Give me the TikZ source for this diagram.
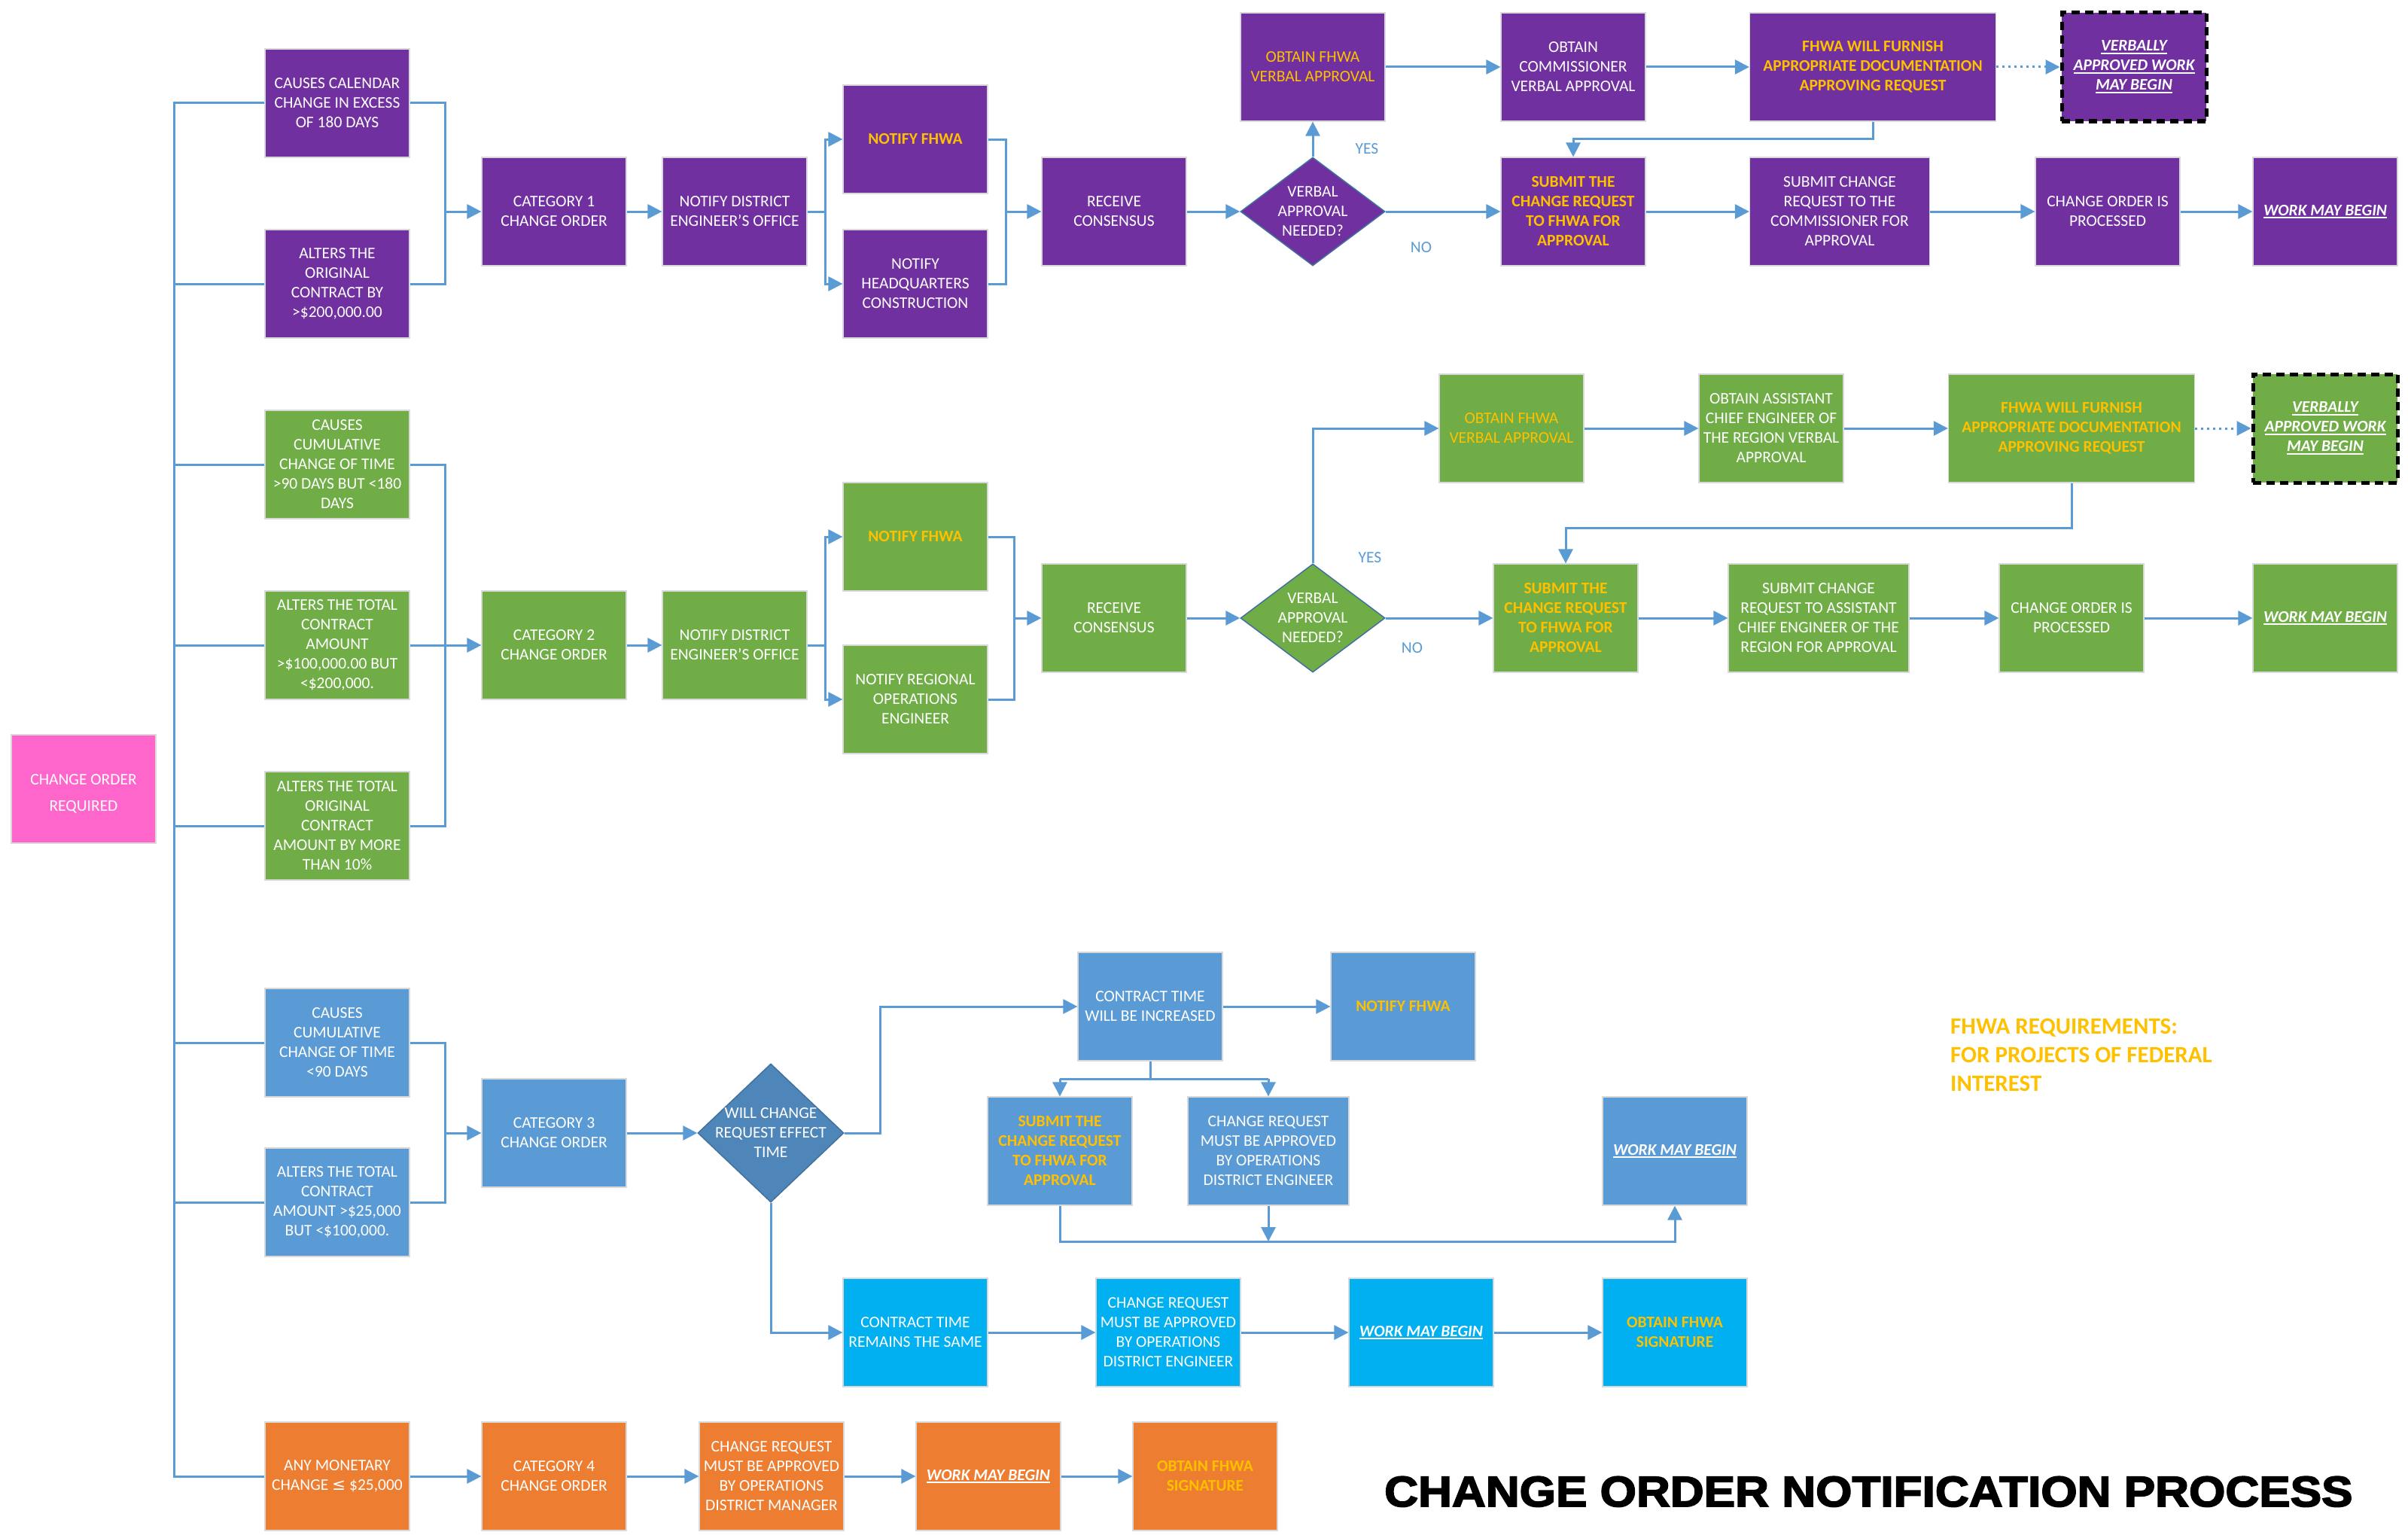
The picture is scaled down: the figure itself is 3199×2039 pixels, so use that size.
\documentclass[tikz,border=0pt]{standalone}
\usepackage{fontspec}
\setmainfont{Carlito}
\newfontfamily\titlefont[FakeStretch=1.09,FakeBold=3]{Liberation Sans}
\newfontfamily\symfont{DejaVu Sans}
\usetikzlibrary{arrows.meta,shapes.geometric,calc}
\definecolor{cpur}{HTML}{7030A0}
\definecolor{cgrn}{HTML}{70AD47}
\definecolor{cblu}{HTML}{5B9BD5}
\definecolor{cdia}{HTML}{4F86BA}
\definecolor{ccya}{HTML}{00B0F0}
\definecolor{corg}{HTML}{ED7D31}
\definecolor{cpnk}{HTML}{FF66CC}
\definecolor{cyel}{HTML}{FFC000}
\definecolor{cline}{HTML}{5B9BD5}
\definecolor{cedge}{HTML}{41719C}
\definecolor{cbord}{HTML}{D9D9D9}
\newcommand\boxfont{\fontsize{21.5}{26}\selectfont}
\newcommand\wul[1]{\setbox0\hbox{#1}\rlap{\rule[-4pt]{\wd0}{1.8pt}}\box0}
\tikzset{
  box/.style={rectangle, draw=cbord, line width=1.2pt, inner sep=0pt,
    minimum width=192pt, minimum height=144pt, align=center, text=white, font=\boxfont},
  pur/.style={box, fill=cpur},
  grn/.style={box, fill=cgrn},
  blu/.style={box, fill=cblu},
  cya/.style={box, fill=ccya},
  org/.style={box, fill=corg},
  ylw/.style={text=cyel, font=\boxfont\bfseries},
  ylwr/.style={text=cyel},
  wk/.style={font=\boxfont\bfseries\itshape},
  vb/.style={draw=black, line width=5pt, dash pattern=on 11pt off 7pt},
  dia/.style={diamond, draw=cedge, line width=1.5pt, inner sep=0pt,
    minimum width=192pt, minimum height=144pt},
  conn/.style={draw=cline, line width=3pt},
  arr/.style={conn, -{Triangle[length=19pt,width=19pt]}},
  dotarr/.style={arr, dash pattern=on 3pt off 5pt},
  yn/.style={text=cline, font=\boxfont, inner sep=0pt},
}
\begin{document}
\begin{tikzpicture}[x=1pt,y=-1pt]
\useasboundingbox (0,0) rectangle (3199,2039);
\fill[white] (0,0) rectangle (3199,2039);

% ---------- start ----------
\node[box, fill=cpnk, label={[text=white,align=center,yshift=-6pt,font=\fontsize{21.5}{35}\selectfont]center:CHANGE ORDER\\REQUIRED}] (req) at (111,1048) {};

% ---------- purple row ----------
\node[pur] (pin1) at (448,137) {CAUSES CALENDAR\\CHANGE IN EXCESS\\OF 180 DAYS};
\node[pur] (pin2) at (448,377) {ALTERS THE\\ORIGINAL\\CONTRACT BY\\>\$200,000.00};
\node[pur] (pcat) at (736,281) {CATEGORY 1\\CHANGE ORDER};
\node[pur] (pdis) at (976,281) {NOTIFY DISTRICT\\ENGINEER’S OFFICE};
\node[pur, ylw] (pnf) at (1216,185) {NOTIFY FHWA};
\node[pur] (phq) at (1216,377) {NOTIFY\\HEADQUARTERS\\CONSTRUCTION};
\node[pur] (prc) at (1480,281) {RECEIVE\\CONSENSUS};
\node[dia, fill=cpur, label={[text=white,align=center,font=\boxfont]center:VERBAL\\APPROVAL\\NEEDED?}] (pdia) at (1744,281) {};
\node[pur, ylwr] (pofv) at (1744,89) {OBTAIN FHWA\\VERBAL APPROVAL};
\node[pur] (pcom) at (2090,89) {OBTAIN\\COMMISSIONER\\VERBAL APPROVAL};
\node[pur, ylw, minimum width=327pt] (pfur) at (2488,89) {FHWA WILL FURNISH\\APPROPRIATE DOCUMENTATION\\APPROVING REQUEST};
\node[pur, vb, wk] (pvb) at (2835,89) {\wul{VERBALLY}\\\wul{APPROVED WORK}\\\wul{MAY BEGIN}};
\node[pur, ylw] (psub) at (2090,281) {SUBMIT THE\\CHANGE REQUEST\\TO FHWA FOR\\APPROVAL};
\node[pur, minimum width=239pt] (psc) at (2444,281) {SUBMIT CHANGE\\REQUEST TO THE\\COMMISSIONER FOR\\APPROVAL};
\node[pur] (pcop) at (2800,281) {CHANGE ORDER IS\\PROCESSED};
\node[pur, wk] (pwmb) at (3089,281) {\wul{WORK MAY BEGIN}};
\node[yn] (pyes) at (1816,198) {YES};
\node[yn] (pno) at (1888,329) {NO};

% ---------- green row ----------
\node[grn] (gin1) at (448,617) {CAUSES\\CUMULATIVE\\CHANGE OF TIME\\>90 DAYS BUT <180\\DAYS};
\node[grn] (gin2) at (448,857) {ALTERS THE TOTAL\\CONTRACT\\AMOUNT\\>\$100,000.00 BUT\\<\$200,000.};
\node[grn] (gin3) at (448,1097) {ALTERS THE TOTAL\\ORIGINAL\\CONTRACT\\AMOUNT BY MORE\\THAN 10\%};
\node[grn] (gcat) at (736,857) {CATEGORY 2\\CHANGE ORDER};
\node[grn] (gdis) at (976,857) {NOTIFY DISTRICT\\ENGINEER’S OFFICE};
\node[grn, ylw] (gnf) at (1216,713) {NOTIFY FHWA};
\node[grn] (gro) at (1216,929) {NOTIFY REGIONAL\\OPERATIONS\\ENGINEER};
\node[grn] (grc) at (1480,821) {RECEIVE\\CONSENSUS};
\node[dia, fill=cgrn, label={[text=white,align=center,font=\boxfont]center:VERBAL\\APPROVAL\\NEEDED?}] (gdia) at (1744,821) {};
\node[grn, ylwr] (gofv) at (2008,569) {OBTAIN FHWA\\VERBAL APPROVAL};
\node[grn] (gasst) at (2353,569) {OBTAIN ASSISTANT\\CHIEF ENGINEER OF\\THE REGION VERBAL\\APPROVAL};
\node[grn, ylw, minimum width=327pt] (gfur) at (2752,569) {FHWA WILL FURNISH\\APPROPRIATE DOCUMENTATION\\APPROVING REQUEST};
\node[grn, vb, wk] (gvb) at (3089,569) {\wul{VERBALLY}\\\wul{APPROVED WORK}\\\wul{MAY BEGIN}};
\node[grn, ylw] (gsub) at (2080,821) {SUBMIT THE\\CHANGE REQUEST\\TO FHWA FOR\\APPROVAL};
\node[grn, minimum width=240pt] (gsc) at (2416,821) {SUBMIT CHANGE\\REQUEST TO ASSISTANT\\CHIEF ENGINEER OF THE\\REGION FOR APPROVAL};
\node[grn] (gcop) at (2752,821) {CHANGE ORDER IS\\PROCESSED};
\node[grn, wk] (gwmb) at (3089,821) {\wul{WORK MAY BEGIN}};
\node[yn] (gyes) at (1820,741) {YES};
\node[yn] (gno) at (1876,861) {NO};

% ---------- blue row ----------
\node[blu] (bin1) at (448,1385) {CAUSES\\CUMULATIVE\\CHANGE OF TIME\\<90 DAYS};
\node[blu] (bin2) at (448,1597) {ALTERS THE TOTAL\\CONTRACT\\AMOUNT >\$25,000\\BUT <\$100,000.};
\node[blu] (bcat) at (736,1505) {CATEGORY 3\\CHANGE ORDER};
\node[dia, fill=cdia, minimum width=194pt, minimum height=184pt, label={[text=white,align=center,font=\boxfont]center:WILL CHANGE\\REQUEST EFFECT\\TIME}] (bdia) at (1024,1505) {};
\node[blu] (bcti) at (1528,1337) {CONTRACT TIME\\WILL BE INCREASED};
\node[blu, ylw] (bnf) at (1864,1337) {NOTIFY FHWA};
\node[blu, ylw] (bsub) at (1408,1529) {SUBMIT THE\\CHANGE REQUEST\\TO FHWA FOR\\APPROVAL};
\node[blu, minimum width=214pt] (bops) at (1685,1529) {CHANGE REQUEST\\MUST BE APPROVED\\BY OPERATIONS\\DISTRICT ENGINEER};
\node[blu, wk] (bwmb) at (2225,1529) {\wul{WORK MAY BEGIN}};
\node[cya] (ccrs) at (1216,1770) {CONTRACT TIME\\REMAINS THE SAME};
\node[cya] (cops) at (1552,1770) {CHANGE REQUEST\\MUST BE APPROVED\\BY OPERATIONS\\DISTRICT ENGINEER};
\node[cya, wk] (cwmb) at (1888,1770) {\wul{WORK MAY BEGIN}};
\node[cya, ylw] (csig) at (2225,1770) {OBTAIN FHWA\\SIGNATURE};

% ---------- orange row ----------
\node[org] (oin) at (448,1961) {ANY MONETARY\\CHANGE {\symfont ≤} \$25,000};
\node[org] (ocat) at (736,1961) {CATEGORY 4\\CHANGE ORDER};
\node[org] (oapp) at (1025,1961) {CHANGE REQUEST\\MUST BE APPROVED\\BY OPERATIONS\\DISTRICT MANAGER};
\node[org, wk] (owmb) at (1313,1961) {\wul{WORK MAY BEGIN}};
\node[org, ylw] (osig) at (1601,1961) {OBTAIN FHWA\\SIGNATURE};

% ---------- texts ----------
\node[anchor=base west, text=cyel, align=left, inner sep=0pt,
  font=\fontsize{31}{38}\selectfont\bfseries] (freq) at (2591,1449)
  {FHWA REQUIREMENTS:\\FOR PROJECTS OF FEDERAL\\INTEREST};
\node[anchor=base west, inner sep=0pt, text=black,
  font={\titlefont\bfseries\fontsize{57}{60}\selectfont}] (title) at (1839,2001)
  {CHANGE ORDER NOTIFICATION PROCESS};

% ---------- trunk ----------
\coordinate (trk) at (231,1961);
\draw[conn] (pin1.west) -| (trk) -- (oin.west);
\foreach \n in {pin2,gin1,gin2,gin3,bin1,bin2}
  \draw[conn] (\n.west) -- (\n.west -| trk);

% ---------- purple connectors ----------
\coordinate (pb1) at (591,281);
\draw[conn] (pin1.east) -| (pb1) |- (pin2.east);
\draw[arr] (pb1) -- (pcat.west);
\draw[arr] (pcat) -- (pdis);
\coordinate (ps) at (1096,281);
\draw[conn] (pdis.east) -- (ps);
\draw[arr] (ps) |- (pnf.west);
\draw[arr] (ps) |- (phq.west);
\coordinate (pb2) at (1336,281);
\draw[conn] (pnf.east) -| (pb2) |- (phq.east);
\draw[arr] (pb2) -- (prc.west);
\draw[arr] (prc) -- (pdia);
\draw[arr] (pdia.east) -- (psub.west);
\draw[arr] (pdia.north) -- (pofv.south);
\draw[arr] (pofv) -- (pcom);
\draw[arr] (pcom) -- (pfur);
\draw[dotarr] (pfur) -- (pvb);
\draw[arr] (pfur.south) -- ++(0,23) -| (psub.north);
\draw[arr] (psub) -- (psc);
\draw[arr] (psc) -- (pcop);
\draw[arr] (pcop) -- (pwmb);

% ---------- green connectors ----------
\coordinate (gb1) at (591,857);
\draw[conn] (gin1.east) -| (gb1) |- (gin3.east);
\draw[conn] (gin2.east) -- (gb1);
\draw[arr] (gb1) -- (gcat.west);
\draw[arr] (gcat) -- (gdis);
\coordinate (gs) at (1096,857);
\draw[conn] (gdis.east) -- (gs);
\draw[arr] (gs) |- (gnf.west);
\draw[arr] (gs) |- (gro.west);
\coordinate (gb2) at (1347,821);
\draw[conn] (gnf.east) -| (gb2) |- (gro.east);
\draw[arr] (gb2) -- (grc.west);
\draw[arr] (grc) -- (gdia);
\draw[arr] (gdia.east) -- (gsub.west);
\draw[arr] (gdia.north) |- (gofv.west);
\draw[arr] (gofv) -- (gasst);
\draw[arr] (gasst) -- (gfur);
\draw[dotarr] (gfur) -- (gvb);
\draw[arr] (gfur.south) -- ++(0,60) -| (gsub.north);
\draw[arr] (gsub) -- (gsc);
\draw[arr] (gsc) -- (gcop);
\draw[arr] (gcop) -- (gwmb);

% ---------- blue connectors ----------
\coordinate (bb1) at (591,1505);
\draw[conn] (bin1.east) -| (bb1) |- (bin2.east);
\draw[arr] (bb1) -- (bcat.west);
\draw[arr] (bcat) -- (bdia.west);
\draw[arr] (bdia.east) -- ++(48,0) |- (bcti.west);
\draw[arr] (bcti) -- (bnf);
\coordinate (bsp) at (1528,1433);
\draw[conn] (bcti.south) -- (bsp);
\draw[conn] (bsp) -- (bsub.north |- bsp);
\draw[conn] (bsp) -- (bops.north |- bsp);
\draw[arr] (bsub.north |- bsp) -- (bsub.north);
\draw[arr] (bops.north |- bsp) -- (bops.north);
\coordinate (bj) at (1685,1649);
\draw[arr] (bops.south) -- (bj);
\draw[arr] (bsub.south) |- (bj) -| (bwmb.south);
\draw[arr] (bdia.south) |- (ccrs.west);
\draw[arr] (ccrs) -- (cops);
\draw[arr] (cops) -- (cwmb);
\draw[arr] (cwmb) -- (csig);

% ---------- orange connectors ----------
\draw[arr] (oin) -- (ocat);
\draw[arr] (ocat) -- (oapp);
\draw[arr] (oapp) -- (owmb);
\draw[arr] (owmb) -- (osig);
\end{tikzpicture}
\end{document}
